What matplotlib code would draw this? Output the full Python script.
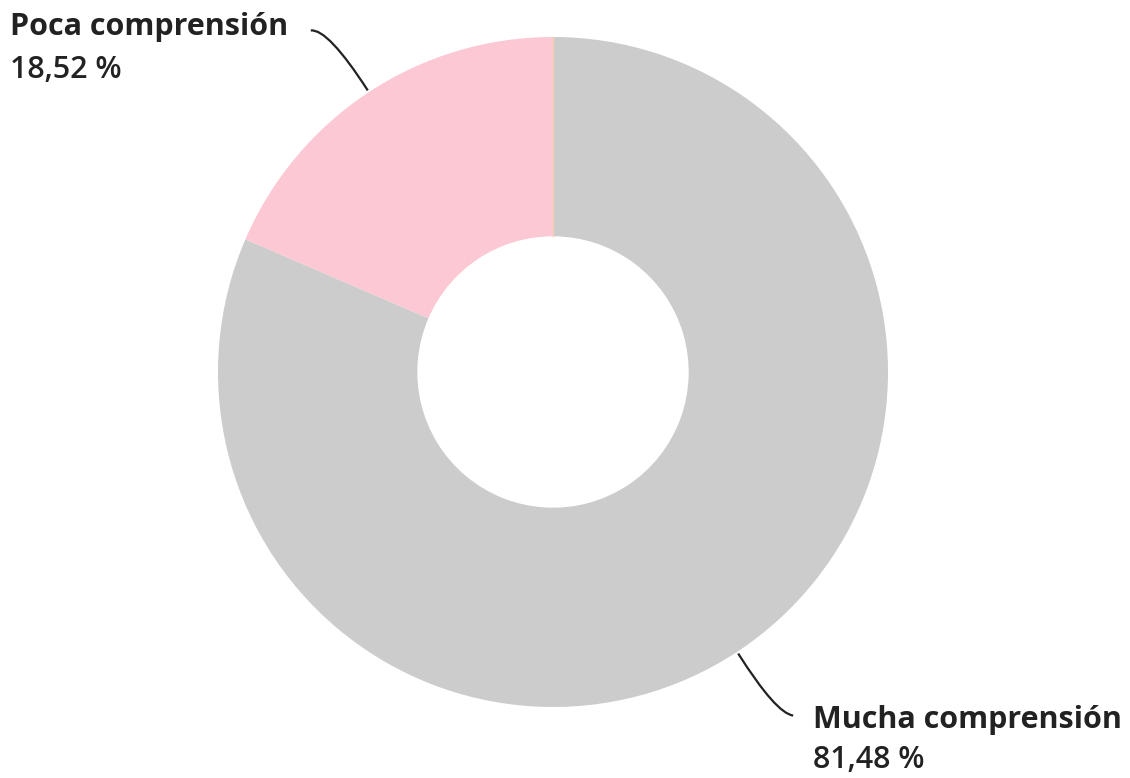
import numpy as np
import matplotlib
matplotlib.use("Agg")
import matplotlib.pyplot as plt
from matplotlib.path import Path
from matplotlib.patches import PathPatch

categories = ["Mucha comprensión", "Poca comprensión"]
values = [81.48, 18.52]
value_labels = ["81,48 %", "18,52 %"]
colors = ["#cccccc", "#fcc8d4"]

W, H = 1130, 778
fig = plt.figure(figsize=(W / 100, H / 100), dpi=100)
ax = fig.add_axes([0, 0, 1, 1])

cx, cy, R = 553, H - 372, 335
wedges, _ = ax.pie(values, colors=colors, startangle=90, counterclock=False,
                   center=(cx, cy), radius=R, frame=True,
                   wedgeprops=dict(width=R * 0.595, edgecolor="none"))
ax.set_xlim(0, W)
ax.set_ylim(0, H)
ax.set_aspect("equal")
ax.axis("off")
# faint edge at top
ax.plot([cx, cx], [cy + R * 0.405, cy + R], color="#f5d0b0", lw=1, zorder=3)

font = ["Open Sans", "DejaVu Sans"]
fs = 22

def curve(p0, p1, p2):
    path = Path([p0, p1, p2], [Path.MOVETO, Path.CURVE3, Path.CURVE3])
    ax.add_patch(PathPatch(path, fc="none", ec="#222222", lw=1.6, zorder=4))

# Mucha comprensión (index 0)
w = wedges[0]
mid = np.deg2rad((w.theta1 + w.theta2) / 2)
ex, ey = cx + (R + 2) * np.cos(mid), cy + (R + 2) * np.sin(mid)
curve((ex, ey), (ex + 38, ey - 60), (ex + 55, ey - 62))
ax.text(813, H - 720, categories[0], fontsize=fs, fontweight="bold",
        color="#222222", family=font, va="center", ha="left")
ax.text(813, H - 760, value_labels[0], fontsize=fs, fontweight="semibold",
        color="#222222", family=font, va="center", ha="left")

# Poca comprensión (index 1)
w = wedges[1]
mid = np.deg2rad((w.theta1 + w.theta2) / 2)
ex, ey = cx + (R + 2) * np.cos(mid), cy + (R + 2) * np.sin(mid)
curve((ex, ey), (ex - 40, ey + 62), (ex - 57, ey + 60))
ax.text(10, H - 27, categories[1], fontsize=fs, fontweight="bold",
        color="#222222", family=font, va="center", ha="left")
ax.text(10, H - 70, value_labels[1], fontsize=fs, fontweight="semibold",
        color="#222222", family=font, va="center", ha="left")

fig.savefig("out.png", dpi=100, facecolor="white")
